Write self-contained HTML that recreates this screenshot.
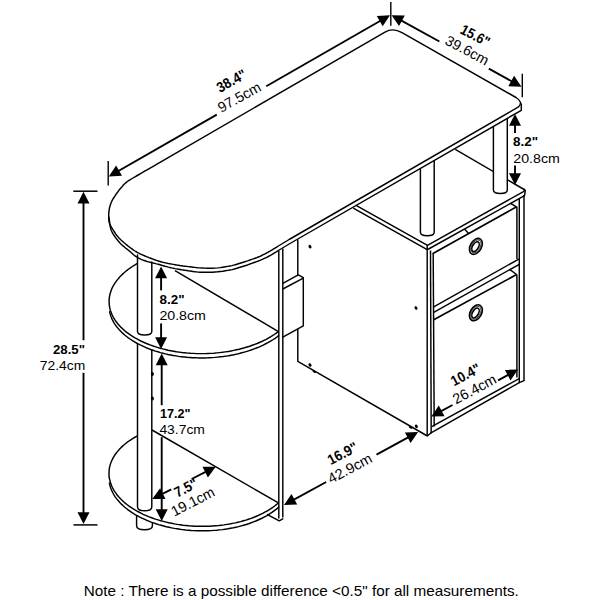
<!DOCTYPE html>
<html><head><meta charset="utf-8"><style>
html,body{margin:0;padding:0;background:#fff;}
svg{display:block;}
text{font-family:"Liberation Sans",sans-serif;fill:#000;}
</style></head><body>
<svg width="600" height="600" viewBox="0 0 600 600">
<path d="M297.8,240 L297.8,361.3 L426.5,435.5" fill="none" stroke="#000" stroke-width="1.45" stroke-linejoin="round" stroke-linecap="round"/>
<ellipse cx="310" cy="246.7" rx="1.4" ry="1.9" transform="rotate(-30 310 246.7)" fill="#000"/>
<ellipse cx="416" cy="308" rx="1.4" ry="1.9" transform="rotate(-30 416 308)" fill="#000"/>
<ellipse cx="310" cy="365" rx="1.4" ry="1.9" transform="rotate(-30 310 365)" fill="#000"/>
<ellipse cx="416.3" cy="426.3" rx="1.4" ry="1.9" transform="rotate(-30 416.3 426.3)" fill="#000"/>
<ellipse cx="314.3" cy="371.6" rx="2.0" ry="1.1" transform="rotate(30 314.3 371.6)" fill="#000"/>
<ellipse cx="410.6" cy="427.4" rx="2.0" ry="1.1" transform="rotate(30 410.6 427.4)" fill="#000"/>
<path d="M282.8,283.4 L298.3,274.9 L303.3,277.7 L303.3,325.9 L282.8,337.2" fill="#fff" stroke="#000" stroke-width="1.45" stroke-linejoin="round" stroke-linecap="round"/>
<line x1="282.8" y1="289" x2="303.3" y2="278.2" stroke="#000" stroke-width="1.45" stroke-linecap="butt"/>
<line x1="455.3" y1="149.4" x2="525" y2="190" stroke="#000" stroke-width="1.45" stroke-linecap="butt"/>
<path d="M493.4,127 L493.4,190 Q493.4,193.5 500.4,193.5 Q507.3,193.5 507.3,190 L507.3,119.1" fill="#fff" stroke="#000" stroke-width="1.45" stroke-linejoin="round" stroke-linecap="round"/>
<path d="M420.4,168.8 L420.4,232.3 Q420.4,235.8 427.3,235.8 Q434.2,235.8 434.2,232.3 L434.2,160.9" fill="#fff" stroke="#000" stroke-width="1.45" stroke-linejoin="round" stroke-linecap="round"/>
<path d="M356.5,205.6 L427.5,245.4 L523,191.8 Q525.5,190.2 524.2,189.2" fill="none" stroke="#000" stroke-width="1.45" stroke-linejoin="round" stroke-linecap="round"/>
<line x1="353.3" y1="208.1" x2="427.2" y2="249.6" stroke="#000" stroke-width="1.45" stroke-linecap="butt"/>
<path d="M427.2,245.6 L427.2,249.4 L428.6,249 L524.5,195.7 L525.3,190.6" fill="none" stroke="#000" stroke-width="1.45" stroke-linejoin="round" stroke-linecap="round"/>
<line x1="427.2" y1="249" x2="427.2" y2="436" stroke="#000" stroke-width="1.45" stroke-linecap="butt"/>
<line x1="430.5" y1="250.5" x2="431.2" y2="433.2" stroke="#000" stroke-width="1.45" stroke-linecap="butt"/>
<line x1="433.2" y1="254" x2="434.2" y2="426.5" stroke="#000" stroke-width="1.45" stroke-linecap="butt"/>
<line x1="524" y1="195" x2="524" y2="380.8" stroke="#000" stroke-width="1.45" stroke-linecap="butt"/>
<line x1="519.3" y1="199" x2="519.3" y2="382" stroke="#000" stroke-width="1.45" stroke-linecap="butt"/>
<line x1="516.9" y1="206.5" x2="516.9" y2="259" stroke="#000" stroke-width="1.45" stroke-linecap="butt"/>
<line x1="516.9" y1="274.5" x2="516.9" y2="377.5" stroke="#000" stroke-width="1.45" stroke-linecap="butt"/>
<line x1="510.7" y1="203.4" x2="516.4" y2="206.9" stroke="#000" stroke-width="1.45" stroke-linecap="butt"/>
<line x1="432.5" y1="253.8" x2="516.6" y2="206.8" stroke="#000" stroke-width="1.7" stroke-linecap="butt"/>
<line x1="464.5" y1="229.1" x2="468.6" y2="233.6" stroke="#000" stroke-width="1.45" stroke-linecap="butt"/>
<line x1="433.3" y1="307.1" x2="519.3" y2="258.8" stroke="#000" stroke-width="1.45" stroke-linecap="butt"/>
<line x1="433.3" y1="312.6" x2="519.3" y2="264.3" stroke="#000" stroke-width="1.45" stroke-linecap="butt"/>
<line x1="510" y1="269.6" x2="516.6" y2="274.5" stroke="#000" stroke-width="1.45" stroke-linecap="butt"/>
<line x1="433.3" y1="320.1" x2="516.6" y2="274.5" stroke="#000" stroke-width="1.7" stroke-linecap="butt"/>
<line x1="431.7" y1="426.7" x2="519.2" y2="378.6" stroke="#000" stroke-width="1.45" stroke-linecap="butt"/>
<line x1="430.6" y1="433.1" x2="519.3" y2="382.6" stroke="#000" stroke-width="1.45" stroke-linecap="butt"/>
<path d="M427.2,436 L430.6,433.2 M519.3,382.6 L524,380.6" fill="none" stroke="#000" stroke-width="1.45" stroke-linejoin="round" stroke-linecap="round"/>
<ellipse cx="475.9" cy="246.4" rx="5.6" ry="8.6" transform="rotate(30 475.9 246.4)" fill="#fff" stroke="#000" stroke-width="1.6"/>
<ellipse cx="475.9" cy="246.4" rx="4.3" ry="7.1" transform="rotate(30 475.9 246.4)" fill="none" stroke="#000" stroke-width="0.7"/>
<ellipse cx="475.7" cy="246.8" rx="2.9" ry="5.4" transform="rotate(30 475.9 246.4)" fill="#fff" stroke="#000" stroke-width="1.6"/>
<ellipse cx="475.9" cy="312.8" rx="5.6" ry="8.6" transform="rotate(30 475.9 312.8)" fill="#fff" stroke="#000" stroke-width="1.6"/>
<ellipse cx="475.9" cy="312.8" rx="4.3" ry="7.1" transform="rotate(30 475.9 312.8)" fill="none" stroke="#000" stroke-width="0.7"/>
<ellipse cx="475.7" cy="313.2" rx="2.9" ry="5.4" transform="rotate(30 475.9 312.8)" fill="#fff" stroke="#000" stroke-width="1.6"/>
<path d="M136.6,515.6 L136.6,525.8 Q136.6,529.8 144.5,529.8 Q152.4,529.8 152.4,525.8 L152.4,522.8" fill="#fff" stroke="#000" stroke-width="1.45" stroke-linejoin="round" stroke-linecap="round"/>
<path d="M144.9,432.3 L142.7,433.3 L140.6,434.2 L138.5,435.3 L136.5,436.4 L134.5,437.5 L132.6,438.6 L130.8,439.8 L129,441 L127.3,442.2 L125.7,443.5 L124.1,444.8 L122.6,446.1 L121.2,447.4 L119.9,448.8 L118.6,450.2 L117.4,451.6 L116.3,453 L115.2,454.5 L114.3,455.9 L113.4,457.4 L112.6,458.9 L111.8,460.5 L111.2,462 L110.6,463.5 L110.1,465.1 L109.7,466.6 L109.4,468.2 L109.2,469.8 L109.1,471.3 L109,472.9 L109,474.6 L109.1,476.3 L109.3,478 L109.7,479.6 L110.1,481.3 L110.6,482.9 L111.2,484.6 L111.8,486.2 L112.6,487.9 L113.5,489.5 L114.4,491.1 L115.5,492.6 L116.6,494.2 L117.8,495.7 L119.1,497.3 L120.5,498.8 L122,500.2 L123.6,501.7 L125.2,503.1 L126.9,504.5 L128.7,505.8 L130.6,507.1 L132.5,508.4 L134.5,509.7 L136.6,510.9 L138.8,512 L141,513.2 L143.2,514.3 L145.6,515.3 L148,516.3 L150.4,517.3 L152.9,518.2 L155.4,519.1 L158,519.9 L160.7,520.7 L163.4,521.4 L166.1,522.1 L168.8,522.8 L171.6,523.3 L174.4,523.9 L177.3,524.4 L180.1,524.8 L183,525.2 L185.9,525.5 L188.9,525.8 L191.8,526 L194.7,526.2 L197.7,526.3 L200.6,526.3 L203.6,526.3 L206.6,526.3 L209.5,526.2 L212.4,526 L215.4,525.8 L218.3,525.6 L221.2,525.2 L224,524.9 L226.9,524.4 L229.7,524 L232.5,523.4 L235.3,522.9 L238,522.2 L240.7,521.6 L243.3,520.8 L245.9,520.1 L248.5,519.2 L251,518.4 L253.4,517.5 L255.8,516.5 L258.2,515.5 L260.4,514.4 L262.7,513.4 L264.8,512.2 L266.9,511.1 L268.9,509.9 L270.9,508.6 L272.8,507.3 L274.6,506 L276.3,504.7 L278,503.3 L152,430" fill="#fff" stroke="#000" stroke-width="0.01" stroke-linejoin="round" stroke-linecap="round"/>
<path d="M144.9,432.3 L142.7,433.3 L140.6,434.2 L138.5,435.3 L136.5,436.4 L134.5,437.5 L132.6,438.6 L130.8,439.8 L129,441 L127.3,442.2 L125.7,443.5 L124.1,444.8 L122.6,446.1 L121.2,447.4 L119.9,448.8 L118.6,450.2 L117.4,451.6 L116.3,453 L115.2,454.5 L114.3,455.9 L113.4,457.4 L112.6,458.9 L111.8,460.5 L111.2,462 L110.6,463.5 L110.1,465.1 L109.7,466.6 L109.4,468.2 L109.2,469.8 L109.1,471.3 L109,472.9 L109,474.6 L109.1,476.3 L109.3,478 L109.7,479.6 L110.1,481.3 L110.6,482.9 L111.2,484.6 L111.8,486.2 L112.6,487.9 L113.5,489.5 L114.4,491.1 L115.5,492.6 L116.6,494.2 L117.8,495.7 L119.1,497.3 L120.5,498.8 L122,500.2 L123.6,501.7 L125.2,503.1 L126.9,504.5 L128.7,505.8 L130.6,507.1 L132.5,508.4 L134.5,509.7 L136.6,510.9 L138.8,512 L141,513.2 L143.2,514.3 L145.6,515.3 L148,516.3 L150.4,517.3 L152.9,518.2 L155.4,519.1 L158,519.9 L160.7,520.7 L163.4,521.4 L166.1,522.1 L168.8,522.8 L171.6,523.3 L174.4,523.9 L177.3,524.4 L180.1,524.8 L183,525.2 L185.9,525.5 L188.9,525.8 L191.8,526 L194.7,526.2 L197.7,526.3 L200.6,526.3 L203.6,526.3 L206.6,526.3 L209.5,526.2 L212.4,526 L215.4,525.8 L218.3,525.6 L221.2,525.2 L224,524.9 L226.9,524.4 L229.7,524 L232.5,523.4 L235.3,522.9 L238,522.2 L240.7,521.6 L243.3,520.8 L245.9,520.1 L248.5,519.2 L251,518.4 L253.4,517.5 L255.8,516.5 L258.2,515.5 L260.4,514.4 L262.7,513.4 L264.8,512.2 L266.9,511.1 L268.9,509.9 L270.9,508.6 L272.8,507.3 L274.6,506 L276.3,504.7 L278,503.3" fill="none" stroke="#000" stroke-width="1.45" stroke-linejoin="round" stroke-linecap="round"/>
<path d="M109.4,482.9 L109.7,484.5 L110.1,486.1 L110.6,487.7 L111.2,489.3 L111.9,490.9 L112.7,492.5 L113.5,494 L114.4,495.6 L115.4,497.1 L116.5,498.6 L117.7,500.1 L119,501.5 L120.3,503 L121.7,504.4 L123.2,505.8 L124.8,507.2 L126.4,508.5 L128.1,509.8 L129.9,511.1 L131.7,512.4 L133.6,513.6 L135.6,514.8 L137.7,515.9 L139.8,517.1 L141.9,518.1 L144.2,519.2 L146.4,520.2 L148.8,521.1 L151.1,522.1 L153.6,522.9 L156,523.8 L158.5,524.6 L161.1,525.3 L163.7,526 L166.3,526.7 L169,527.3 L171.7,527.9 L174.4,528.4 L177.2,528.8 L179.9,529.3 L182.7,529.6 L185.5,530 L188.4,530.2 L191.2,530.5 L194,530.6 L196.9,530.7 L199.7,530.8 L202.6,530.8 L205.5,530.8 L208.3,530.7 L211.2,530.6 L214,530.4 L216.8,530.2 L219.6,529.9 L222.4,529.6 L225.2,529.2 L227.9,528.8 L230.6,528.3 L233.3,527.8 L236,527.2 L238.6,526.6 L241.2,525.9 L243.7,525.2 L246.2,524.5 L248.7,523.7 L251.1,522.8 L253.5,521.9 L255.8,521 L258.1,520 L260.3,519 L262.4,518 L264.5,516.9 L266.6,515.8 L268.5,514.6 L270.4,513.4 L272.3,512.2 L274,510.9 L275.7,509.6 L277.4,508.3 L278.9,507" fill="none" stroke="#000" stroke-width="1.45" stroke-linejoin="round" stroke-linecap="round"/>
<line x1="152" y1="430" x2="278" y2="502.7" stroke="#000" stroke-width="1.45" stroke-linecap="butt"/>
<path d="M137.5,343.8 L137.5,506.8 Q137.5,510.8 144.7,510.8 Q151.8,510.8 151.8,506.8 L151.8,350.1" fill="#fff" stroke="#000" stroke-width="1.45" stroke-linejoin="round" stroke-linecap="round"/>
<path d="M144.6,259.8 L142.4,260.8 L140.3,261.9 L138.2,263 L136.2,264.1 L134.2,265.3 L132.3,266.5 L130.4,267.8 L128.7,269 L127,270.3 L125.3,271.7 L123.8,273 L122.3,274.4 L120.9,275.8 L119.5,277.2 L118.3,278.7 L117.1,280.1 L116,281.6 L114.9,283.1 L114,284.6 L113.1,286.2 L112.3,287.7 L111.6,289.3 L111,290.9 L110.5,292.4 L110,294 L109.7,295.6 L109.4,297.2 L109.2,298.8 L109.1,300.4 L109.1,302 L109.2,303.7 L109.3,305.3 L109.6,306.9 L109.9,308.6 L110.3,310.2 L110.9,311.8 L111.5,313.4 L112.2,315 L113,316.6 L113.8,318.1 L114.8,319.7 L115.8,321.2 L117,322.7 L118.2,324.2 L119.5,325.7 L120.8,327.1 L122.3,328.5 L123.8,329.9 L125.4,331.3 L127.1,332.6 L128.9,333.9 L130.7,335.2 L132.6,336.4 L134.5,337.6 L136.6,338.7 L138.7,339.9 L140.8,341 L143,342 L145.3,343 L147.7,344 L150,344.9 L152.5,345.8 L155,346.6 L157.5,347.4 L160.1,348.2 L162.7,348.9 L165.3,349.5 L168,350.2 L170.8,350.7 L173.5,351.2 L176.3,351.7 L179.1,352.1 L181.9,352.5 L184.8,352.8 L187.7,353.1 L190.6,353.3 L193.5,353.4 L196.4,353.6 L199.3,353.6 L202.2,353.6 L205.1,353.6 L208,353.5 L210.9,353.4 L213.9,353.2 L216.7,352.9 L219.6,352.6 L222.5,352.3 L225.3,351.9 L228.2,351.5 L231,351 L233.7,350.4 L236.5,349.8 L239.2,349.2 L241.9,348.5 L244.5,347.8 L247.1,347 L249.7,346.2 L252.2,345.3 L254.7,344.4 L257.1,343.5 L259.4,342.5 L261.7,341.5 L264,340.4 L266.2,339.3 L268.3,338.1 L270.4,337 L272.4,335.7 L274.3,334.5 L276.2,333.2 L278,331.9 L175,270.6" fill="#fff" stroke="#000" stroke-width="0.01" stroke-linejoin="round" stroke-linecap="round"/>
<path d="M144.6,259.8 L142.4,260.8 L140.3,261.9 L138.2,263 L136.2,264.1 L134.2,265.3 L132.3,266.5 L130.4,267.8 L128.7,269 L127,270.3 L125.3,271.7 L123.8,273 L122.3,274.4 L120.9,275.8 L119.5,277.2 L118.3,278.7 L117.1,280.1 L116,281.6 L114.9,283.1 L114,284.6 L113.1,286.2 L112.3,287.7 L111.6,289.3 L111,290.9 L110.5,292.4 L110,294 L109.7,295.6 L109.4,297.2 L109.2,298.8 L109.1,300.4 L109.1,302 L109.2,303.7 L109.3,305.3 L109.6,306.9 L109.9,308.6 L110.3,310.2 L110.9,311.8 L111.5,313.4 L112.2,315 L113,316.6 L113.8,318.1 L114.8,319.7 L115.8,321.2 L117,322.7 L118.2,324.2 L119.5,325.7 L120.8,327.1 L122.3,328.5 L123.8,329.9 L125.4,331.3 L127.1,332.6 L128.9,333.9 L130.7,335.2 L132.6,336.4 L134.5,337.6 L136.6,338.7 L138.7,339.9 L140.8,341 L143,342 L145.3,343 L147.7,344 L150,344.9 L152.5,345.8 L155,346.6 L157.5,347.4 L160.1,348.2 L162.7,348.9 L165.3,349.5 L168,350.2 L170.8,350.7 L173.5,351.2 L176.3,351.7 L179.1,352.1 L181.9,352.5 L184.8,352.8 L187.7,353.1 L190.6,353.3 L193.5,353.4 L196.4,353.6 L199.3,353.6 L202.2,353.6 L205.1,353.6 L208,353.5 L210.9,353.4 L213.9,353.2 L216.7,352.9 L219.6,352.6 L222.5,352.3 L225.3,351.9 L228.2,351.5 L231,351 L233.7,350.4 L236.5,349.8 L239.2,349.2 L241.9,348.5 L244.5,347.8 L247.1,347 L249.7,346.2 L252.2,345.3 L254.7,344.4 L257.1,343.5 L259.4,342.5 L261.7,341.5 L264,340.4 L266.2,339.3 L268.3,338.1 L270.4,337 L272.4,335.7 L274.3,334.5 L276.2,333.2 L278,331.9" fill="none" stroke="#000" stroke-width="1.45" stroke-linejoin="round" stroke-linecap="round"/>
<path d="M109.7,311.8 L110,313.4 L110.5,315 L111,316.5 L111.6,318.1 L112.3,319.6 L113.1,321.1 L113.9,322.6 L114.8,324.1 L115.9,325.6 L116.9,327 L118.1,328.4 L119.3,329.8 L120.7,331.2 L122,332.6 L123.5,333.9 L125,335.2 L126.6,336.5 L128.3,337.8 L130,339 L131.8,340.2 L133.7,341.4 L135.6,342.5 L137.6,343.6 L139.7,344.7 L141.8,345.7 L143.9,346.7 L146.1,347.7 L148.4,348.6 L150.7,349.5 L153,350.3 L155.4,351.1 L157.9,351.8 L160.4,352.6 L162.9,353.2 L165.5,353.9 L168,354.5 L170.7,355 L173.3,355.5 L176,355.9 L178.7,356.4 L181.4,356.7 L184.2,357 L186.9,357.3 L189.7,357.5 L192.5,357.7 L195.3,357.8 L198.1,357.9 L200.9,357.9 L203.7,357.9 L206.5,357.9 L209.3,357.7 L212.1,357.6 L214.9,357.4 L217.7,357.1 L220.4,356.8 L223.2,356.5 L225.9,356.1 L228.6,355.7 L231.3,355.2 L234,354.7 L236.6,354.1 L239.3,353.5 L241.8,352.8 L244.4,352.1 L246.9,351.4 L249.3,350.6 L251.8,349.8 L254.1,348.9 L256.5,348 L258.8,347.1 L261,346.1 L263.2,345.1 L265.3,344 L267.4,342.9 L269.4,341.8 L271.4,340.7 L273.3,339.5 L275.1,338.3 L276.9,337 L278.6,335.7" fill="none" stroke="#000" stroke-width="1.45" stroke-linejoin="round" stroke-linecap="round"/>
<line x1="175" y1="270.6" x2="278" y2="331.3" stroke="#000" stroke-width="1.45" stroke-linecap="butt"/>
<path d="M137.5,255 L137.5,331.5 Q137.5,335 144.7,335 Q151.8,335 151.8,331.5 L151.8,262" fill="#fff" stroke="#000" stroke-width="1.45" stroke-linejoin="round" stroke-linecap="round"/>
<ellipse cx="152.4" cy="374" rx="1.5" ry="2.0" transform="rotate(0 152.4 374)" fill="#000"/>
<ellipse cx="152.4" cy="398.5" rx="1.5" ry="2.0" transform="rotate(0 152.4 398.5)" fill="#000"/>
<line x1="278.8" y1="250.5" x2="278.8" y2="518.5" stroke="#000" stroke-width="1.45" stroke-linecap="butt"/>
<line x1="282.8" y1="248.5" x2="282.8" y2="517.5" stroke="#000" stroke-width="1.45" stroke-linecap="butt"/>
<path d="M267.5,514.6 L279.2,520.8 L282.8,518.8" fill="none" stroke="#000" stroke-width="1.45" stroke-linejoin="round" stroke-linecap="round"/>
<path d="M160,162.3 L385,32.1 Q393,27.4 402,32.6 L516,97.5 Q523.5,102 518.5,106.9 L290,239 L288.3,240 L286.7,241 L285,242 L283.3,243 L281.7,244 L280,245 L278.3,246 L276.7,247.1 L275,248.1 L273.3,249.1 L271.7,250.1 L270,251.1 L268.3,252 L266.7,253 L265,253.9 L263.3,254.7 L261.7,255.5 L260,256.3 L258.3,257 L256.7,257.7 L255,258.3 L253.3,258.9 L251.7,259.4 L250,260 L248.3,260.6 L246.7,261.1 L245,261.7 L243.3,262.2 L241.7,262.7 L240,263.2 L238.4,263.7 L236.9,264.2 L235.3,264.7 L233.7,265.1 L232,265.6 L230,266 L227.8,266.4 L225.4,266.8 L222.8,267.2 L220.2,267.6 L217.6,267.9 L215,268.1 L212.4,268.2 L209.8,268.2 L207.2,268.2 L204.6,268.1 L202.2,268 L200,267.9 L198,267.8 L196.3,267.6 L194.7,267.4 L193.1,267.2 L191.6,267 L190,266.8 L188.3,266.6 L186.7,266.4 L185,266.2 L183.3,266 L181.7,265.7 L180,265.5 L178.3,265.2 L176.7,265 L175,264.7 L173.3,264.4 L171.7,264.1 L170,263.8 L168.3,263.5 L166.7,263.1 L165,262.8 L163.3,262.4 L161.7,262 L160,261.5 L158.3,261 L156.5,260.4 L154.7,259.7 L153,259.1 L151.4,258.5 L150,258 L148.9,257.6 L148,257.2 L147.2,256.9 L146.5,256.6 L145.8,256.3 L145,256 L144.2,255.6 L143.3,255.3 L142.5,254.9 L141.7,254.5 L140.8,254.2 L140,253.8 L139.2,253.3 L138.3,252.9 L137.5,252.5 L136.7,252 L135.8,251.5 L135,251 L134.2,250.5 L133.3,249.9 L132.5,249.3 L131.7,248.7 L130.8,248.1 L130,247.5 L129.2,246.9 L128.3,246.2 L127.5,245.6 L126.7,244.9 L125.8,244.2 L125,243.5 L124.1,242.8 L123.3,242 L122.4,241.2 L121.6,240.5 L120.7,239.7 L120,239 L119.3,238.3 L118.7,237.7 L118.2,237.1 L117.7,236.5 L117.1,235.8 L116.5,235 L115.8,234.1 L115.1,233 L114.4,231.9 L113.6,230.8 L112.9,229.7 L112.3,228.6 L111.7,227.6 L111.1,226.7 L110.6,225.7 L110.1,224.8 L109.6,223.7 L109.3,222.5 L109,221.1 L108.8,219.6 L108.7,218 L108.7,216.3 L108.7,214.7 L108.8,213 L109,211.4 L109.2,209.7 L109.5,208 L109.9,206.4 L110.4,204.7 L111,203 L111.8,201.3 L112.6,199.6 L113.6,198 L114.7,196.3 L115.8,194.6 L117,193 L118.2,191.3 L119.5,189.6 L120.9,188 L122.3,186.4 L123.6,184.8 L125,183.5 L126.3,182.4 L127.4,181.5 L128.6,180.7 L129.9,179.9 L131.3,179 L133,178 L135,176.8 L137.3,175.5 L139.7,174.1 L142.2,172.7 L144.7,171.2 L147,169.9 L149.2,168.6 L151.4,167.3 L153.6,166.1 L155.7,164.8 L157.8,163.6 L160,162.3 Z" fill="#fff" stroke="#000" stroke-width="1.45" stroke-linejoin="round" stroke-linecap="round"/>
<path d="M108.9,217 L109.2,219.1 L109.5,221.2 L109.7,223.3 L110,225.3 L110.4,227.3 L110.8,229 L111.3,230.5 L111.9,231.8 L112.5,233 L113.2,234.1 L113.9,235.2 L114.7,236.3 L115.5,237.5 L116.4,238.7 L117.3,239.8 L118.2,241 L119.1,242 L120,243 L120.9,243.9 L121.7,244.7 L122.5,245.4 L123.3,246.1 L124.2,246.8 L125,247.5 L125.8,248.2 L126.7,248.9 L127.5,249.5 L128.3,250.2 L129.2,250.8 L130,251.5 L130.8,252.2 L131.7,253 L132.5,253.7 L133.3,254.5 L134.2,255.2 L135,255.8 L135.8,256.4 L136.7,256.9 L137.5,257.4 L138.3,257.9 L139.2,258.4 L140,258.8 L140.8,259.2 L141.7,259.6 L142.5,259.9 L143.3,260.2 L144.2,260.5 L145,260.8 L145.8,261.1 L146.5,261.3 L147.2,261.5 L148,261.7 L148.9,261.9 L150,262.2 L151.4,262.6 L153,263 L154.7,263.4 L156.5,263.9 L158.3,264.3 L160,264.8 L161.7,265.3 L163.3,265.7 L165,266.2 L166.7,266.6 L168.3,267.1 L170,267.5 L171.7,267.9 L173.3,268.2 L175,268.6 L176.7,268.9 L178.3,269.2 L180,269.5 L181.7,269.8 L183.3,270 L185,270.3 L186.7,270.5 L188.3,270.8 L190,271 L191.6,271.2 L193.1,271.5 L194.7,271.7 L196.3,271.9 L198,272.1 L200,272.2 L202.2,272.3 L204.6,272.3 L207.2,272.3 L209.8,272.3 L212.4,272.2 L215,272 L217.6,271.8 L220.2,271.5 L222.8,271.2 L225.4,270.8 L227.8,270.4 L230,270 L232,269.6 L233.7,269.2 L235.3,268.7 L236.9,268.3 L238.4,267.8 L240,267.3 L241.7,266.8 L243.3,266.3 L245,265.7 L246.7,265.2 L248.3,264.6 L250,264 L251.7,263.4 L253.3,262.8 L255,262.2 L256.7,261.6 L258.3,261 L260,260.3 L261.7,259.6 L263.3,258.9 L265,258.1 L266.7,257.3 L268.3,256.5 L270,255.6 L271.7,254.7 L273.3,253.7 L275,252.6 L276.7,251.6 L278.3,250.5 L280,249.5 L281.7,248.5 L283.3,247.5 L285,246.5 L286.7,245.5 L288.3,244.5 L290,243.5 L521.3,110.3 L521.3,104" fill="none" stroke="#000" stroke-width="1.45" stroke-linejoin="round" stroke-linecap="round"/>
<path d="M108.8,176.5 L116.1,165.4 L122,175.8 Z" fill="#000"/>
<path d="M390,15.2 L382.7,26.3 L376.8,15.9 Z" fill="#000"/>
<line x1="111.4" y1="175" x2="216.8" y2="114.6" stroke="#000" stroke-width="1.9" stroke-linecap="butt"/>
<line x1="266.3" y1="86.2" x2="387.4" y2="16.7" stroke="#000" stroke-width="1.9" stroke-linecap="butt"/>
<line x1="108.2" y1="161" x2="108.2" y2="185.5" stroke="#000" stroke-width="1.4" stroke-linecap="butt"/>
<line x1="390.8" y1="2" x2="390.8" y2="25.8" stroke="#000" stroke-width="1.4" stroke-linecap="butt"/>
<text x="233.9" y="85.2" font-size="14.5" font-weight="bold" text-anchor="middle" textLength="31.77" lengthAdjust="spacingAndGlyphs" transform="rotate(-29 233.9 85.2)">38.4"</text>
<text x="241.7" y="101.5" font-size="14.5" font-weight="normal" text-anchor="middle" textLength="46.97" lengthAdjust="spacingAndGlyphs" transform="rotate(-29 241.7 101.5)">97.5cm</text>
<path d="M391.6,15.2 L404.8,15.6 L399,26.1 Z" fill="#000"/>
<path d="M521.5,86.7 L508.3,86.3 L514.1,75.8 Z" fill="#000"/>
<line x1="394.2" y1="16.6" x2="439.4" y2="41.5" stroke="#000" stroke-width="1.9" stroke-linecap="butt"/>
<line x1="488.8" y1="68.7" x2="518.9" y2="85.3" stroke="#000" stroke-width="1.9" stroke-linecap="butt"/>
<line x1="522.3" y1="73.7" x2="522.3" y2="97.3" stroke="#000" stroke-width="1.4" stroke-linecap="butt"/>
<text x="473" y="40" font-size="14.5" font-weight="bold" text-anchor="middle" textLength="30.94" lengthAdjust="spacingAndGlyphs" transform="rotate(28 473 40)">15.6"</text>
<text x="464.8" y="54.8" font-size="14.5" font-weight="normal" text-anchor="middle" textLength="46.87" lengthAdjust="spacingAndGlyphs" transform="rotate(28 464.8 54.8)">39.6cm</text>
<path d="M515,114 L521,125.8 L509,125.8 Z" fill="#000"/>
<path d="M515,185 L509,173.2 L521,173.2 Z" fill="#000"/>
<line x1="515" y1="117" x2="515" y2="133" stroke="#000" stroke-width="1.9" stroke-linecap="butt"/>
<line x1="515" y1="165.5" x2="515" y2="182" stroke="#000" stroke-width="1.9" stroke-linecap="butt"/>
<text x="513" y="146" font-size="13.5" font-weight="bold" textLength="25" lengthAdjust="spacingAndGlyphs">8.2"</text>
<text x="513.3" y="162.5" font-size="13.5" font-weight="normal" textLength="46.5" lengthAdjust="spacingAndGlyphs">20.8cm</text>
<path d="M83.5,191.7 L89.5,203.5 L77.5,203.5 Z" fill="#000"/>
<path d="M83.5,524 L77.5,512.2 L89.5,512.2 Z" fill="#000"/>
<line x1="83.5" y1="194.7" x2="83.5" y2="340.2" stroke="#000" stroke-width="1.9" stroke-linecap="butt"/>
<line x1="83.5" y1="372.8" x2="83.5" y2="521" stroke="#000" stroke-width="1.9" stroke-linecap="butt"/>
<line x1="73.3" y1="191.2" x2="97.5" y2="191.2" stroke="#000" stroke-width="1.5" stroke-linecap="butt"/>
<line x1="73.5" y1="524.9" x2="97.5" y2="524.9" stroke="#000" stroke-width="1.5" stroke-linecap="butt"/>
<text x="85" y="353.7" font-size="13.5" font-weight="bold" text-anchor="end" textLength="32" lengthAdjust="spacingAndGlyphs">28.5"</text>
<text x="85.3" y="369.8" font-size="13.5" font-weight="normal" text-anchor="end" textLength="45.5" lengthAdjust="spacingAndGlyphs">72.4cm</text>
<path d="M161.1,266.4 L167.1,278.2 L155.1,278.2 Z" fill="#000"/>
<path d="M161.1,349 L155.1,337.2 L167.1,337.2 Z" fill="#000"/>
<line x1="161.1" y1="269.4" x2="161.1" y2="290.4" stroke="#000" stroke-width="1.9" stroke-linecap="butt"/>
<line x1="161.1" y1="323.4" x2="161.1" y2="346" stroke="#000" stroke-width="1.9" stroke-linecap="butt"/>
<text x="159.5" y="303.7" font-size="13.5" font-weight="bold" textLength="25" lengthAdjust="spacingAndGlyphs">8.2"</text>
<text x="159.4" y="320" font-size="13.5" font-weight="normal" textLength="46.5" lengthAdjust="spacingAndGlyphs">20.8cm</text>
<path d="M161.7,353.4 L167.7,365.2 L155.7,365.2 Z" fill="#000"/>
<path d="M161.7,521 L155.7,509.2 L167.7,509.2 Z" fill="#000"/>
<line x1="161.7" y1="356.4" x2="161.7" y2="405.2" stroke="#000" stroke-width="1.9" stroke-linecap="butt"/>
<line x1="161.7" y1="437.2" x2="161.7" y2="518" stroke="#000" stroke-width="1.9" stroke-linecap="butt"/>
<text x="160" y="417.8" font-size="13.5" font-weight="bold" textLength="30.5" lengthAdjust="spacingAndGlyphs">17.2"</text>
<text x="159.4" y="434.1" font-size="13.5" font-weight="normal" textLength="45.5" lengthAdjust="spacingAndGlyphs">43.7cm</text>
<path d="M152.3,499 L160.1,488.3 L165.5,499 Z" fill="#000"/>
<path d="M215.7,466.7 L207.9,477.4 L202.5,466.7 Z" fill="#000"/>
<line x1="155" y1="497.6" x2="171.3" y2="489.3" stroke="#000" stroke-width="1.9" stroke-linecap="butt"/>
<line x1="191.6" y1="479" x2="213" y2="468.1" stroke="#000" stroke-width="1.9" stroke-linecap="butt"/>
<text x="188.2" y="492.2" font-size="14.5" font-weight="bold" text-anchor="middle" textLength="24.07" lengthAdjust="spacingAndGlyphs" transform="rotate(-28 188.2 492.2)">7.5"</text>
<text x="195.1" y="506" font-size="14.5" font-weight="normal" text-anchor="middle" textLength="46.88" lengthAdjust="spacingAndGlyphs" transform="rotate(-27 195.1 506)">19.1cm</text>
<path d="M284,505 L291.5,494.1 L297.2,504.6 Z" fill="#000"/>
<path d="M418.1,432 L410.6,442.9 L404.9,432.4 Z" fill="#000"/>
<line x1="286.6" y1="503.6" x2="326.2" y2="482" stroke="#000" stroke-width="1.9" stroke-linecap="butt"/>
<line x1="376.5" y1="454.6" x2="415.5" y2="433.4" stroke="#000" stroke-width="1.9" stroke-linecap="butt"/>
<text x="345" y="457.8" font-size="14.5" font-weight="bold" text-anchor="middle" textLength="32.07" lengthAdjust="spacingAndGlyphs" transform="rotate(-28 345 457.8)">16.9"</text>
<text x="352.2" y="472.8" font-size="14.5" font-weight="normal" text-anchor="middle" textLength="48.0" lengthAdjust="spacingAndGlyphs" transform="rotate(-28 352.2 472.8)">42.9cm</text>
<path d="M431.3,416.5 L438.8,405.6 L444.5,416.2 Z" fill="#000"/>
<path d="M518,369.5 L510.5,380.4 L504.8,369.8 Z" fill="#000"/>
<line x1="433.9" y1="415.1" x2="452.5" y2="405" stroke="#000" stroke-width="1.9" stroke-linecap="butt"/>
<line x1="498.1" y1="380.3" x2="515.4" y2="370.9" stroke="#000" stroke-width="1.9" stroke-linecap="butt"/>
<text x="467.9" y="379" font-size="14.5" font-weight="bold" text-anchor="middle" textLength="31.51" lengthAdjust="spacingAndGlyphs" transform="rotate(-28 467.9 379)">10.4"</text>
<text x="476.8" y="393.5" font-size="14.5" font-weight="normal" text-anchor="middle" textLength="46.87" lengthAdjust="spacingAndGlyphs" transform="rotate(-28 476.8 393.5)">26.4cm</text>
<text x="83.8" y="596.4" font-size="14.2" font-weight="normal" textLength="435" lengthAdjust="spacingAndGlyphs">Note : There is a possible difference &lt;0.5" for all measurements.</text>
</svg>
</body></html>
